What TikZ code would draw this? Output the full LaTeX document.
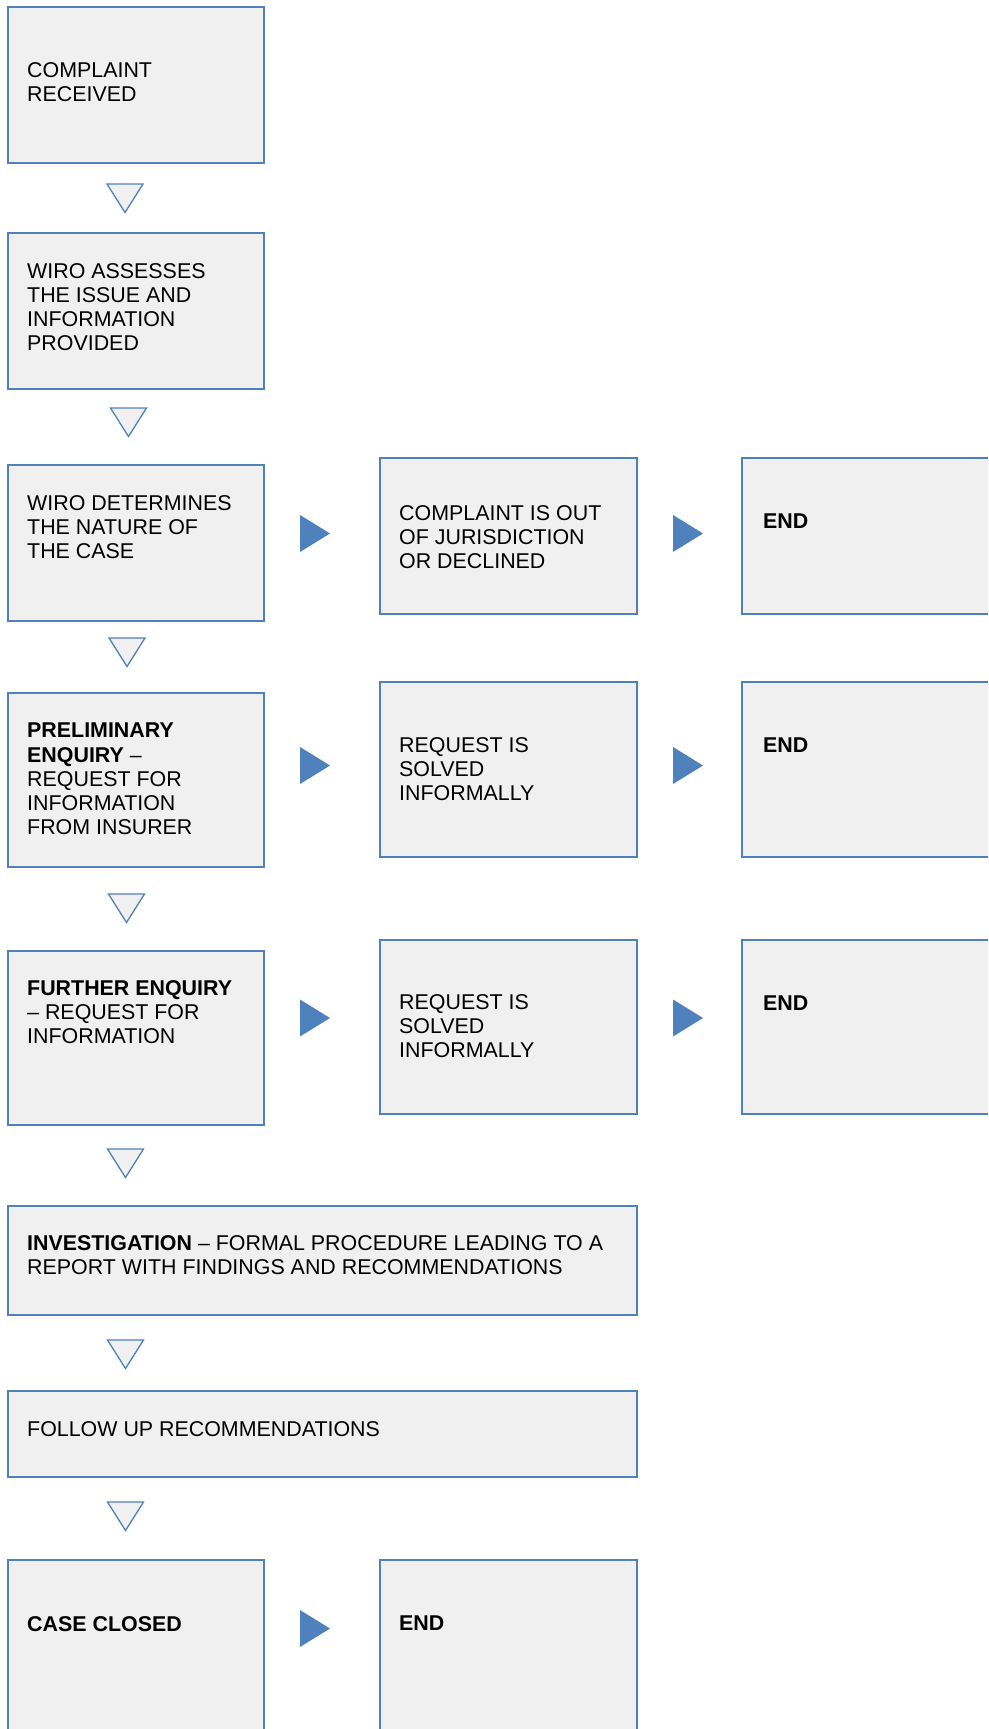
\documentclass[tikz,border=0pt]{standalone}
\usepackage{fontspec}
\setmainfont{Liberation Sans}
\usetikzlibrary{calc}
\definecolor{bblue}{RGB}{79,129,189}
\definecolor{bfill}{RGB}{240,240,240}
\tikzset{
  box/.style={draw=bblue, fill=bfill, line width=1.8pt, rectangle, inner sep=0pt, anchor=north west},
  colbox/.style={box, minimum width=256pt},
  widebox/.style={box, minimum width=629pt},
  txt/.style={anchor=north west, inner sep=0pt, align=left, font=\fontsize{21.4}{24.2}\selectfont, text=black},
  downtri/.style={draw=bblue, fill=bfill, line width=1.3pt, line join=miter},
  righttri/.style={fill=bblue, draw=none},
}
\newcommand\dtri[2]{\draw[downtri] ({#1-18},#2) -- ({#1+18},#2) -- (#1,{#2+28.5}) -- cycle;}
\newcommand\rtri[2]{\fill[righttri] (#1,{#2-18.5}) -- ({#1+30},#2) -- (#1,{#2+18.5}) -- cycle;}
\begin{document}
\begin{tikzpicture}[x=1pt,y=-1pt]
\useasboundingbox (0,0) rectangle (988,1729);
\clip (0,0) rectangle (988,1729);
\fill[white] (0,0) rectangle (988,1729);

% boxes
\node[colbox, minimum height=156pt] (b1) at (7,6) {};
\node[colbox, minimum height=156pt] (b2) at (7,232) {};
\node[colbox, minimum height=156pt] (b3) at (7,464) {};
\node[colbox, minimum width=257pt, minimum height=156pt] (m3) at (379,457) {};
\node[colbox, minimum width=257pt, minimum height=156pt] (e3) at (741,457) {};
\node[colbox, minimum height=174pt] (b4) at (7,692) {};
\node[colbox, minimum width=257pt, minimum height=175pt] (m4) at (379,681) {};
\node[colbox, minimum width=257pt, minimum height=175pt] (e4) at (741,681) {};
\node[colbox, minimum height=174pt] (b5) at (7,950) {};
\node[colbox, minimum width=257pt, minimum height=174pt] (m5) at (379,939) {};
\node[colbox, minimum width=257pt, minimum height=174pt] (e5) at (741,939) {};
\node[widebox, minimum height=109pt] (b6) at (7,1205) {};
\node[widebox, minimum height=86pt] (b7) at (7,1390) {};
\node[colbox, minimum height=200pt] (b8) at (7,1559) {};
\node[colbox, minimum width=257pt, minimum height=200pt] (m8) at (379,1559) {};

% texts
\node[txt] (tb1) at (27,62) {COMPLAINT\\RECEIVED};
\node[txt] (tb2) at (27,263) {WIRO ASSESSES\\THE ISSUE AND\\INFORMATION\\PROVIDED};
\node[txt] (tb3) at (27,495) {WIRO DETERMINES\\THE NATURE OF\\THE CASE};
\node[txt] (tm3) at (399,505) {COMPLAINT IS OUT\\OF JURISDICTION\\OR DECLINED};
\node[txt] (te3) at (763,514) {\textbf{END}};
\node[txt] (tb4) at (27,723) {\textbf{PRELIMINARY}\\\textbf{ENQUIRY} –\\REQUEST FOR\\INFORMATION\\FROM INSURER};
\node[txt] (tm4) at (399,737) {REQUEST IS\\SOLVED\\INFORMALLY};
\node[txt] (te4) at (763,738) {\textbf{END}};
\node[txt] (tb5) at (27,980) {\textbf{FURTHER ENQUIRY}\\– REQUEST FOR\\INFORMATION};
\node[txt] (tm5) at (399,994) {REQUEST IS\\SOLVED\\INFORMALLY};
\node[txt] (te5) at (763,996) {\textbf{END}};
\node[txt] (tb6) at (27,1235) {\textbf{INVESTIGATION} – FORMAL PROCEDURE LEADING TO A\\REPORT WITH FINDINGS AND RECOMMENDATIONS};
\node[txt] (tb7) at (27,1421) {FOLLOW UP RECOMMENDATIONS};
\node[txt] (tb8) at (27,1616) {\textbf{CASE CLOSED}};
\node[txt] (tm8) at (399,1616) {\textbf{END}};

% downward triangles
\dtri{125}{184}
\dtri{128.5}{408}
\dtri{127}{638}
\dtri{126.5}{894}
\dtri{125.5}{1149}
\dtri{125.5}{1340}
\dtri{125.5}{1502}

% right-pointing arrows
\rtri{300}{533.5}
\rtri{673}{533.5}
\rtri{300}{765.5}
\rtri{673}{765.5}
\rtri{300}{1018}
\rtri{673}{1018}
\rtri{300}{1628.5}
\end{tikzpicture}
\end{document}
